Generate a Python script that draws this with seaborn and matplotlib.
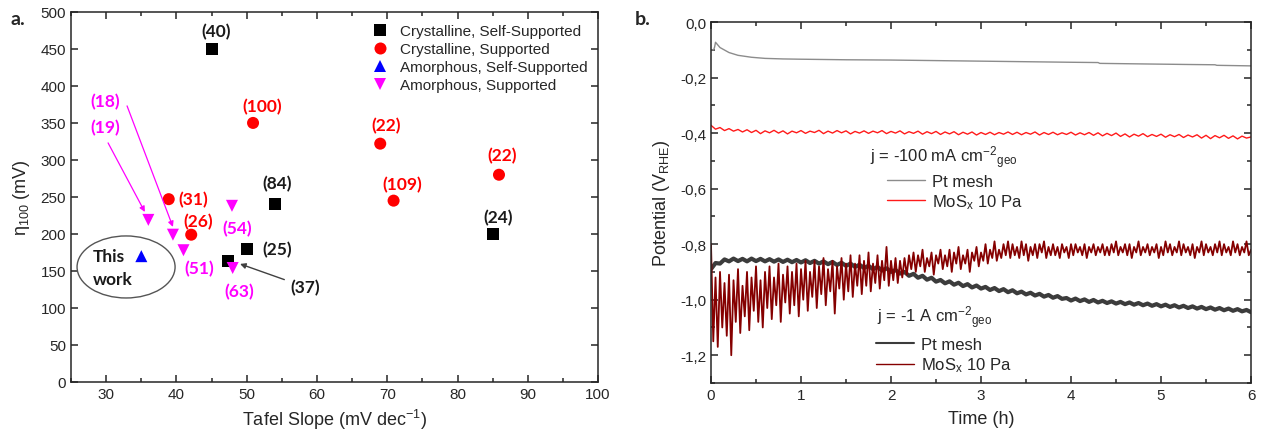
import numpy as np
import pandas as pd
import matplotlib
matplotlib.use("Agg")
import matplotlib.pyplot as plt
import seaborn as sns
from matplotlib.patches import Ellipse
from matplotlib.lines import Line2D
from matplotlib.ticker import MultipleLocator, FuncFormatter

# ---------------- Panel a data ----------------
groups = ["Crystalline, Self-Supported", "Crystalline, Supported",
          "Amorphous, Self-Supported", "Amorphous, Supported"]
cs_x = [45.0, 54.0, 85.0, 50.0, 47.3]
cs_y = [450, 240, 200, 180, 164]
cs_ref = ["(40)", "(84)", "(24)", "(25)", "(37)"]
cr_x = [50.9, 69.0, 85.9, 70.9, 38.9, 42.1]
cr_y = [350, 322, 280, 245, 247, 199]
cr_ref = ["(100)", "(22)", "(22)", "(109)", "(31)", "(26)"]
as_x = [35.0]
as_y = [170]
am_x = [36.0, 39.5, 41.0, 47.9, 48.0]
am_y = [219, 199, 178, 238, 154]
am_ref = ["(19)", "(18)", "(51)", "(54)", "(63)"]

# ---------------- Panel b data ----------------
pt100_t = [0, 0.03, 0.04, 0.05, 0.1, 0.2, 0.3, 0.45, 0.6, 0.8, 1.0, 1.5, 2.0, 2.5,
           3.0, 3.5, 4.0, 4.3, 4.32, 4.8, 5.3, 5.6, 5.62, 6.0]
pt100_v = [-0.100, -0.100, -0.090, -0.073, -0.092, -0.110, -0.120, -0.127, -0.131,
           -0.133, -0.134, -0.136, -0.137, -0.139, -0.141, -0.143, -0.145, -0.146,
           -0.149, -0.151, -0.153, -0.154, -0.156, -0.158]

mos100_v = [-0.372, -0.386, -0.380, -0.391, -0.384, -0.393, -0.387, -0.396, -0.388, -0.398,
            -0.390, -0.402, -0.392, -0.399, -0.390, -0.400, -0.392, -0.403, -0.393, -0.399,
            -0.391, -0.401, -0.393, -0.398, -0.390, -0.402, -0.393, -0.400, -0.391, -0.399,
            -0.392, -0.403, -0.394, -0.400, -0.392, -0.401, -0.393, -0.399, -0.391, -0.402,
            -0.394, -0.400, -0.392, -0.403, -0.395, -0.401, -0.393, -0.404, -0.395, -0.402,
            -0.394, -0.405, -0.396, -0.403, -0.395, -0.406, -0.397, -0.404, -0.396, -0.407,
            -0.398, -0.405, -0.397, -0.406, -0.398, -0.404, -0.396, -0.405, -0.397, -0.406,
            -0.398, -0.404, -0.396, -0.407, -0.398, -0.405, -0.397, -0.406, -0.399, -0.405,
            -0.397, -0.407, -0.399, -0.406, -0.398, -0.408, -0.399, -0.410, -0.401, -0.409,
            -0.400, -0.412, -0.403, -0.414, -0.404, -0.411, -0.402, -0.413, -0.405, -0.412,
            -0.404, -0.415, -0.406, -0.413, -0.405, -0.416, -0.407, -0.414, -0.406, -0.418,
            -0.408, -0.420, -0.409, -0.417, -0.408, -0.419, -0.410, -0.421, -0.411, -0.418,
            -0.414]

pt1a_v = [-0.890, -0.868, -0.870, -0.855, -0.862, -0.852, -0.861, -0.853, -0.862, -0.852,
          -0.861, -0.853, -0.862, -0.854, -0.863, -0.855, -0.864, -0.856, -0.865, -0.857,
          -0.866, -0.858, -0.868, -0.860, -0.870, -0.862, -0.872, -0.864, -0.875, -0.867,
          -0.878, -0.870, -0.882, -0.874, -0.886, -0.878, -0.890, -0.882, -0.895, -0.887,
          -0.900, -0.893, -0.906, -0.900, -0.914, -0.907, -0.921, -0.914, -0.928, -0.921,
          -0.935, -0.929, -0.941, -0.934, -0.946, -0.939, -0.951, -0.944, -0.956, -0.949,
          -0.960, -0.954, -0.965, -0.958, -0.969, -0.962, -0.973, -0.966, -0.977, -0.971,
          -0.981, -0.975, -0.985, -0.979, -0.989, -0.983, -0.993, -0.987, -0.997, -0.994,
          -1.003, -0.996, -1.005, -0.999, -1.008, -1.001, -1.010, -1.004, -1.012, -1.006,
          -1.014, -1.008, -1.016, -1.010, -1.018, -1.012, -1.020, -1.014, -1.022, -1.016,
          -1.024, -1.018, -1.026, -1.020, -1.028, -1.022, -1.030, -1.024, -1.032, -1.026,
          -1.034, -1.028, -1.036, -1.030, -1.038, -1.032, -1.040, -1.034, -1.042, -1.037,
          -1.045]

mos1a_v = [-0.80, -1.15, -0.92, -1.17, -0.90, -1.10, -0.94, -1.13, -0.91, -1.20,
           -0.93, -1.08, -0.89, -1.12, -0.95, -1.06, -0.90, -1.11, -0.92, -1.04,
           -0.88, -1.08, -0.93, -1.10, -0.90, -1.03, -0.88, -1.07, -0.92, -1.02,
           -0.87, -1.08, -0.91, -1.01, -0.88, -1.05, -0.90, -1.02, -0.87, -1.06,
           -0.89, -1.00, -0.86, -1.04, -0.90, -0.99, -0.86, -1.03, -0.88, -0.98,
           -0.85, -1.02, -0.89, -0.97, -0.86, -1.05, -0.88, -0.96, -0.85, -1.00,
           -0.87, -0.97, -0.84, -0.99, -0.87, -0.95, -0.84, -0.98, -0.86, -0.95,
           -0.83, -0.97, -0.87, -0.94, -0.84, -0.96, -0.86, -0.93, -0.81, -0.95,
           -0.86, -0.93, -0.85, -0.94, -0.86, -0.92, -0.85, -0.91, -0.84,
           -0.89, -0.83, -0.90, -0.84, -0.88, -0.82, -0.90, -0.85,
           -0.88, -0.83, -0.91, -0.84, -0.87, -0.82, -0.89, -0.84,
           -0.88, -0.82, -0.90, -0.83, -0.87, -0.81, -0.89, -0.84,
           -0.87, -0.82, -0.90, -0.83, -0.86, -0.81, -0.88, -0.83,
           -0.86, -0.80, -0.87, -0.82, -0.85, -0.79, -0.86, -0.82,
           -0.85, -0.80, -0.84, -0.79, -0.85, -0.80, -0.84, -0.81,
           -0.85, -0.79, -0.84, -0.80, -0.86, -0.81, -0.84, -0.80,
           -0.85, -0.80, -0.83, -0.79, -0.85, -0.81, -0.84, -0.80,
           -0.84, -0.81, -0.85, -0.80, -0.83, -0.81, -0.85, -0.80,
           -0.84, -0.80, -0.83, -0.81, -0.84, -0.80, -0.85, -0.81,
           -0.83, -0.80, -0.84, -0.81, -0.83, -0.80, -0.84, -0.81,
           -0.84, -0.80, -0.83, -0.79, -0.84, -0.81, -0.83, -0.80,
           -0.84, -0.80, -0.85, -0.81, -0.83, -0.79, -0.84, -0.81,
           -0.83, -0.80, -0.84, -0.81, -0.83, -0.80, -0.85, -0.81,
           -0.84, -0.79, -0.83, -0.80, -0.84, -0.81, -0.83, -0.79,
           -0.84, -0.80, -0.83, -0.81, -0.84, -0.80, -0.85, -0.81,
           -0.83, -0.79, -0.84, -0.80, -0.83, -0.81, -0.84, -0.80,
           -0.83, -0.79, -0.84, -0.80, -0.83, -0.81, -0.84, -0.79,
           -0.83, -0.80, -0.84, -0.81, -0.83, -0.79, -0.84, -0.82]

# ---------------- style ----------------
sns.set_style("ticks")
plt.rcParams["font.family"] = ["Liberation Sans", "DejaVu Sans"]
plt.rcParams["mathtext.default"] = "regular"
plt.rcParams["axes.linewidth"] = 1.1

ANN = dict(family=["Lato", "DejaVu Sans"], fontweight="bold", fontsize=12.5)

fig = plt.figure(figsize=(12.62, 4.39), dpi=100)
axa = fig.add_axes([0.0563, 0.1276, 0.4176, 0.843])
axb = fig.add_axes([0.5634, 0.1253, 0.4279, 0.8223])

# ---------------- Panel a ----------------
df = pd.DataFrame({
    "x": cs_x + cr_x + as_x + am_x,
    "y": cs_y + cr_y + as_y + am_y,
    "g": [groups[0]] * len(cs_x) + [groups[1]] * len(cr_x)
         + [groups[2]] * len(as_x) + [groups[3]] * len(am_x),
})
pal = {groups[0]: "#000000", groups[1]: "#ff0000", groups[2]: "#0000ff", groups[3]: "#ff00ff"}
mk = {groups[0]: "s", groups[1]: "o", groups[2]: "^", groups[3]: "v"}
sns.scatterplot(data=df, x="x", y="y", hue="g", style="g", hue_order=groups,
                style_order=groups, palette=pal, markers=mk, s=75, linewidth=0,
                ax=axa, legend=True)
axa.set_xlim(25, 100)
axa.set_ylim(0, 500)
axa.xaxis.set_major_locator(MultipleLocator(10))
axa.xaxis.set_minor_locator(MultipleLocator(5))
axa.yaxis.set_major_locator(MultipleLocator(50))
axa.tick_params(which="both", direction="in", top=True, right=True, labelsize=11,
                width=1.1)
axa.tick_params(which="major", length=5)
axa.tick_params(which="minor", length=3)
axa.set_xlabel("Tafel Slope (mV dec$^{-1}$)", fontsize=13, labelpad=4)
axa.set_ylabel("η$_{100}$ (mV)", fontsize=13, labelpad=6)
sns.move_legend(axa, "upper left", bbox_to_anchor=(0.572, 0.966), frameon=False,
                title=None, fontsize=11, handlelength=1.0, handletextpad=0.8,
                labelspacing=0.25, borderpad=0, borderaxespad=0)

# labels next to points (offsets in points)
cs_off = [(3, 13), (2, 15), (4, 12), (22, 0)]
for i, off in enumerate(cs_off):
    axa.annotate(cs_ref[i], (cs_x[i], cs_y[i]), xytext=off, textcoords="offset points",
                 ha="center", va="center", color="#1a1a1a", **ANN)
axa.annotate(cs_ref[4], xy=(49.05, 159.5), xytext=(58.3, 128.4), ha="center", va="center",
             color="#1a1a1a", arrowprops=dict(arrowstyle="-|>", color="#404040", lw=1,
                                              mutation_scale=8, shrinkA=2, shrinkB=0),
             **ANN)
cr_off = [(6.5, 12), (4, 13), (2, 14), (6.5, 12), (18, 0), (5, 10)]
for i, off in enumerate(cr_off):
    axa.annotate(cr_ref[i], (cr_x[i], cr_y[i]), xytext=off, textcoords="offset points",
                 ha="center", va="center", color="#ff0000", **ANN)
am_off = {2: (11, -13), 3: (3.6, -16), 4: (5, -16.5)}
for i, off in am_off.items():
    axa.annotate(am_ref[i], (am_x[i], am_y[i]), xytext=off, textcoords="offset points",
                 ha="center", va="center", color="#ff00ff", **ANN)
axa.text(29.8, 344.6, am_ref[0], ha="center", va="center", color="#ff00ff", **ANN)
axa.text(29.8, 379.7, am_ref[1], ha="center", va="center", color="#ff00ff", **ANN)
axa.annotate("", xy=(35.5, 229.7), xytext=(30.27, 323),
             arrowprops=dict(arrowstyle="-|>", color="#ff00ff", lw=0.9, mutation_scale=8,
                             shrinkA=0, shrinkB=0))
axa.annotate("", xy=(39.5, 209.5), xytext=(32.97, 373),
             arrowprops=dict(arrowstyle="-|>", color="#ff00ff", lw=0.9, mutation_scale=8,
                             shrinkA=0, shrinkB=0))
axa.add_patch(Ellipse((32.83, 155.4), 13.95, 83.8, fill=False, edgecolor="#555555", lw=1))
axa.text(28.1, 170.3, "This", ha="left", va="center", color="#1a1a1a", **ANN)
axa.text(28.1, 139.2, "work", ha="left", va="center", color="#1a1a1a", **ANN)

# ---------------- Panel b ----------------
t100 = np.linspace(0, 6, len(mos100_v))
tpt1 = np.linspace(0, 6, len(pt1a_v))
tmo1 = np.linspace(0, 6, len(mos1a_v))
sns.lineplot(x=pt100_t, y=pt100_v, ax=axb, color="#8c8c8c", lw=1.0, estimator=None,
             sort=False)
sns.lineplot(x=t100, y=mos100_v, ax=axb, color="#ff1a1a", lw=1.0, estimator=None, sort=False)
sns.lineplot(x=tpt1, y=pt1a_v, ax=axb, color="#3c3c3c", lw=3.0, estimator=None, sort=False)
sns.lineplot(x=tmo1, y=mos1a_v, ax=axb, color="#850000", lw=1.3, estimator=None, sort=False)
axb.set_xlim(0, 6)
axb.set_ylim(-1.3, 0.0)
axb.xaxis.set_major_locator(MultipleLocator(1))
axb.xaxis.set_minor_locator(MultipleLocator(0.5))
axb.yaxis.set_major_locator(MultipleLocator(0.2))
axb.yaxis.set_minor_locator(MultipleLocator(0.1))


def comma(v, pos):
    s = f"{v:.1f}".replace(".", ",")
    return "0,0" if s == "-0,0" else s


axb.yaxis.set_major_formatter(FuncFormatter(comma))
axb.tick_params(which="both", direction="in", top=True, right=True, labelsize=11, width=1.1)
axb.tick_params(which="major", length=5)
axb.tick_params(which="minor", length=3)
axb.set_xlabel("Time (h)", fontsize=13, labelpad=6)
axb.set_ylabel("Potential (V$_{RHE}$)", fontsize=13, labelpad=6)

h1 = [Line2D([], [], color="#8c8c8c", lw=1.0), Line2D([], [], color="#ff1a1a", lw=1.0)]
h2 = [Line2D([], [], color="#3c3c3c", lw=1.5), Line2D([], [], color="#850000", lw=1.0)]
labs = ["Pt mesh", "MoS$_x$ 10 Pa"]
leg1 = axb.legend(h1, labs, loc="upper left", bbox_to_anchor=(0.325, 0.579), frameon=False,
                  fontsize=12, handlelength=2.3, handletextpad=0.4, labelspacing=0.2,
                  borderpad=0, borderaxespad=0)
axb.add_artist(leg1)
axb.legend(h2, labs, loc="upper left", bbox_to_anchor=(0.305, 0.127), frameon=False,
           fontsize=12, handlelength=2.3, handletextpad=0.4, labelspacing=0.2,
           borderpad=0, borderaxespad=0)
axb.text(0.294, 0.612, "j = -100 mA cm$^{-2}$$_{geo}$", transform=axb.transAxes,
         fontsize=12, ha="left", va="baseline")
axb.text(0.307, 0.169, "j = -1 A cm$^{-2}$$_{geo}$", transform=axb.transAxes,
         fontsize=12, ha="left", va="baseline")

fig.text(0.008, 0.942, "a.", fontsize=14, fontweight="bold", family=["Lato", "DejaVu Sans"])
fig.text(0.503, 0.942, "b.", fontsize=14, fontweight="bold", family=["Lato", "DejaVu Sans"])

fig.savefig("out.png", dpi=100)
